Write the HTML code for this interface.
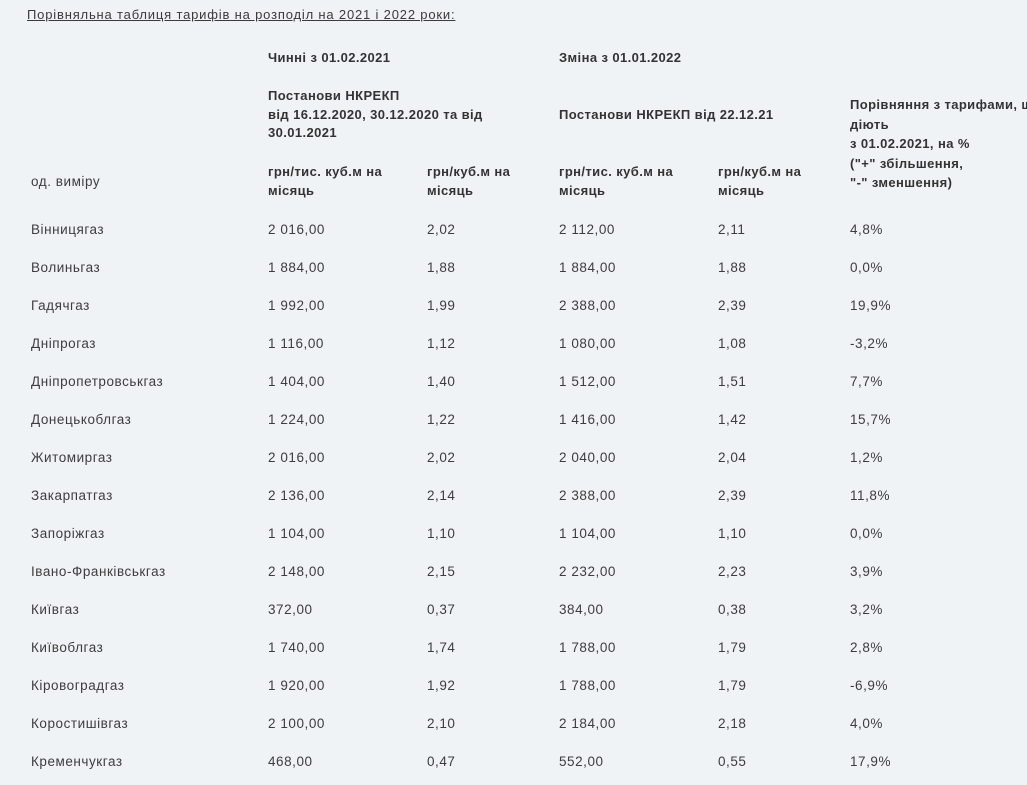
<!DOCTYPE html>
<html><head><meta charset="utf-8">
<style>
html,body{margin:0;padding:0;}
body{width:1027px;height:785px;background:#eff3f5;position:relative;overflow:hidden;font-family:"Liberation Sans","DejaVu Sans",sans-serif;color:#3d3d3d;}
#w{position:absolute;left:0;top:1px;width:1027px;height:784px;}
.t{position:absolute;font-size:13.5px;line-height:19px;letter-spacing:0.55px;white-space:nowrap;}
.b{font-weight:bold;color:#333;font-size:13px;letter-spacing:0.4px;}
.title{position:absolute;left:27px;top:4px;font-size:13px;letter-spacing:0.82px;text-decoration:underline;color:#3a3a3a;line-height:19px;white-space:nowrap;}
</style></head><body><div id="w">
<div class="title">Порівняльна таблиця тарифів на розподіл на 2021 і 2022 роки:</div>

<div class="t b" style="left:268px;top:47px;">Чинні з 01.02.2021</div>
<div class="t b" style="left:559px;top:47px;">Зміна з 01.01.2022</div>

<div class="t b" style="left:268px;top:86px;line-height:18.5px;">Постанови НКРЕКП<br>від 16.12.2020, 30.12.2020 та від<br>30.01.2021</div>
<div class="t b" style="left:559px;top:104px;">Постанови НКРЕКП від 22.12.21</div>
<div class="t b" style="left:850px;top:94px;line-height:19.5px;">Порівняння з тарифами, що<br>діють<br>з 01.02.2021, на %<br>("+" збільшення,<br>"-" зменшення)</div>

<div class="t" style="left:31px;top:171px;">од. виміру</div>
<div class="t b" style="left:268px;top:161px;">грн/тис. куб.м на<br>місяць</div>
<div class="t b" style="left:427px;top:161px;">грн/куб.м на<br>місяць</div>
<div class="t b" style="left:559px;top:161px;">грн/тис. куб.м на<br>місяць</div>
<div class="t b" style="left:718px;top:161px;">грн/куб.м на<br>місяць</div>

<div class="t" style="left:31px;top:219px;">Вінницягаз</div><div class="t" style="left:268px;top:219px;">2 016,00</div><div class="t" style="left:427px;top:219px;">2,02</div><div class="t" style="left:559px;top:219px;">2 112,00</div><div class="t" style="left:718px;top:219px;">2,11</div><div class="t" style="left:850px;top:219px;">4,8%</div>
<div class="t" style="left:31px;top:257px;">Волиньгаз</div><div class="t" style="left:268px;top:257px;">1 884,00</div><div class="t" style="left:427px;top:257px;">1,88</div><div class="t" style="left:559px;top:257px;">1 884,00</div><div class="t" style="left:718px;top:257px;">1,88</div><div class="t" style="left:850px;top:257px;">0,0%</div>
<div class="t" style="left:31px;top:295px;">Гадячгаз</div><div class="t" style="left:268px;top:295px;">1 992,00</div><div class="t" style="left:427px;top:295px;">1,99</div><div class="t" style="left:559px;top:295px;">2 388,00</div><div class="t" style="left:718px;top:295px;">2,39</div><div class="t" style="left:850px;top:295px;">19,9%</div>
<div class="t" style="left:31px;top:333px;">Дніпрогаз</div><div class="t" style="left:268px;top:333px;">1 116,00</div><div class="t" style="left:427px;top:333px;">1,12</div><div class="t" style="left:559px;top:333px;">1 080,00</div><div class="t" style="left:718px;top:333px;">1,08</div><div class="t" style="left:850px;top:333px;">-3,2%</div>
<div class="t" style="left:31px;top:371px;">Дніпропетровськгаз</div><div class="t" style="left:268px;top:371px;">1 404,00</div><div class="t" style="left:427px;top:371px;">1,40</div><div class="t" style="left:559px;top:371px;">1 512,00</div><div class="t" style="left:718px;top:371px;">1,51</div><div class="t" style="left:850px;top:371px;">7,7%</div>
<div class="t" style="left:31px;top:409px;">Донецькоблгаз</div><div class="t" style="left:268px;top:409px;">1 224,00</div><div class="t" style="left:427px;top:409px;">1,22</div><div class="t" style="left:559px;top:409px;">1 416,00</div><div class="t" style="left:718px;top:409px;">1,42</div><div class="t" style="left:850px;top:409px;">15,7%</div>
<div class="t" style="left:31px;top:447px;">Житомиргаз</div><div class="t" style="left:268px;top:447px;">2 016,00</div><div class="t" style="left:427px;top:447px;">2,02</div><div class="t" style="left:559px;top:447px;">2 040,00</div><div class="t" style="left:718px;top:447px;">2,04</div><div class="t" style="left:850px;top:447px;">1,2%</div>
<div class="t" style="left:31px;top:485px;">Закарпатгаз</div><div class="t" style="left:268px;top:485px;">2 136,00</div><div class="t" style="left:427px;top:485px;">2,14</div><div class="t" style="left:559px;top:485px;">2 388,00</div><div class="t" style="left:718px;top:485px;">2,39</div><div class="t" style="left:850px;top:485px;">11,8%</div>
<div class="t" style="left:31px;top:523px;">Запоріжгаз</div><div class="t" style="left:268px;top:523px;">1 104,00</div><div class="t" style="left:427px;top:523px;">1,10</div><div class="t" style="left:559px;top:523px;">1 104,00</div><div class="t" style="left:718px;top:523px;">1,10</div><div class="t" style="left:850px;top:523px;">0,0%</div>
<div class="t" style="left:31px;top:561px;">Івано-Франківськгаз</div><div class="t" style="left:268px;top:561px;">2 148,00</div><div class="t" style="left:427px;top:561px;">2,15</div><div class="t" style="left:559px;top:561px;">2 232,00</div><div class="t" style="left:718px;top:561px;">2,23</div><div class="t" style="left:850px;top:561px;">3,9%</div>
<div class="t" style="left:31px;top:599px;">Київгаз</div><div class="t" style="left:268px;top:599px;">372,00</div><div class="t" style="left:427px;top:599px;">0,37</div><div class="t" style="left:559px;top:599px;">384,00</div><div class="t" style="left:718px;top:599px;">0,38</div><div class="t" style="left:850px;top:599px;">3,2%</div>
<div class="t" style="left:31px;top:637px;">Київоблгаз</div><div class="t" style="left:268px;top:637px;">1 740,00</div><div class="t" style="left:427px;top:637px;">1,74</div><div class="t" style="left:559px;top:637px;">1 788,00</div><div class="t" style="left:718px;top:637px;">1,79</div><div class="t" style="left:850px;top:637px;">2,8%</div>
<div class="t" style="left:31px;top:675px;">Кіровоградгаз</div><div class="t" style="left:268px;top:675px;">1 920,00</div><div class="t" style="left:427px;top:675px;">1,92</div><div class="t" style="left:559px;top:675px;">1 788,00</div><div class="t" style="left:718px;top:675px;">1,79</div><div class="t" style="left:850px;top:675px;">-6,9%</div>
<div class="t" style="left:31px;top:713px;">Коростишівгаз</div><div class="t" style="left:268px;top:713px;">2 100,00</div><div class="t" style="left:427px;top:713px;">2,10</div><div class="t" style="left:559px;top:713px;">2 184,00</div><div class="t" style="left:718px;top:713px;">2,18</div><div class="t" style="left:850px;top:713px;">4,0%</div>
<div class="t" style="left:31px;top:751px;">Кременчукгаз</div><div class="t" style="left:268px;top:751px;">468,00</div><div class="t" style="left:427px;top:751px;">0,47</div><div class="t" style="left:559px;top:751px;">552,00</div><div class="t" style="left:718px;top:751px;">0,55</div><div class="t" style="left:850px;top:751px;">17,9%</div>
</div></body></html>
